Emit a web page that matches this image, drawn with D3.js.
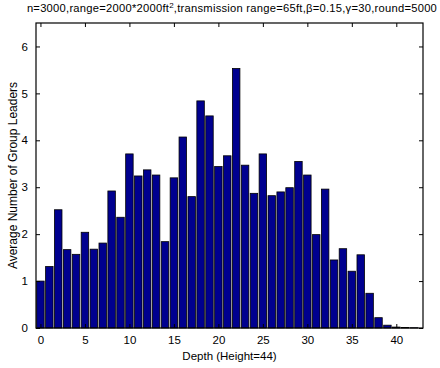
<!DOCTYPE html>
<html>
<head>
<meta charset="utf-8">
<script src="https://cdn.jsdelivr.net/npm/d3@7"></script>
<style>
  body { margin: 0; background: #fff; }
  text { font-family: "Liberation Sans", Arial, sans-serif; }
</style>
</head>
<body>
<div id="chart"></div>
<script>
// depth values 0..42 and average number of group leaders per depth
var depths = d3.range(0, 43);
var leaders = [1.00, 1.31, 2.52, 1.67, 1.57, 2.04, 1.68, 1.81, 2.92, 2.36,
               3.71, 3.24, 3.37, 3.26, 1.84, 3.20, 4.07, 2.80, 4.84, 4.52,
               3.44, 3.67, 5.53, 3.47, 2.87, 3.71, 2.82, 2.90, 2.99, 3.55,
               3.26, 1.99, 2.96, 1.45, 1.69, 1.21, 1.56, 0.74, 0.22, 0.06,
               0.02, 0.01, 0.005];
var xTicks = [0, 5, 10, 15, 20, 25, 30, 35, 40];
var yTicks = [0, 1, 2, 3, 4, 5, 6];

var w = 440, h = 368,
    margin = {top: 23, right: 17, bottom: 40, left: 36};

var svg = d3.select("#chart")
            .append("svg")
            .attr("width", w)
            .attr("height", h)
            .style("background-color", "white");

var width = w - margin.left - margin.right,
    height = h - margin.top - margin.bottom;

var g = svg.append("g").attr("transform", "translate(" + margin.left + "," + margin.top + ")");

var xScale = d3.scaleLinear().domain([-0.5, 43]).range([0, width]),
    yScale = d3.scaleLinear().domain([0, 6.5]).range([height, 0]);

var step = xScale(1) - xScale(0),
    barW = step * 0.84;

// bars
g.selectAll("rect.bar")
  .data(leaders)
  .enter()
  .append("rect")
  .attr("class", "bar")
  .attr("x", function (d, i) { return xScale(depths[i]) - barW / 2; })
  .attr("y", function (d) { return yScale(d); })
  .attr("width", barW)
  .attr("height", function (d) { return height - yScale(d); })
  .attr("fill", "#00008f")
  .attr("stroke", "black")
  .attr("stroke-width", 0.8);

// axes, ticks pointing inward (matlab style)
var xAxis = d3.axisBottom(xScale).tickValues(xTicks).tickSizeInner(-4).tickSizeOuter(0).tickPadding(8).tickFormat(d3.format("d")),
    xAxisTop = d3.axisTop(xScale).tickValues(xTicks).tickSizeInner(-4).tickSizeOuter(0).tickFormat(""),
    yAxis = d3.axisLeft(yScale).tickValues(yTicks).tickSizeInner(-4).tickSizeOuter(0).tickPadding(8).tickFormat(d3.format("d")),
    yAxisRight = d3.axisRight(yScale).tickValues(yTicks).tickSizeInner(-4).tickSizeOuter(0).tickFormat("");

g.append("g").attr("transform", "translate(0," + height + ")").call(xAxis);
g.append("g").call(xAxisTop);
g.append("g").call(yAxis);
g.append("g").attr("transform", "translate(" + width + ",0)").call(yAxisRight);

g.selectAll(".domain").remove();
g.selectAll(".tick line").attr("stroke", "black").attr("stroke-width", 1);
g.selectAll(".tick text").attr("fill", "black").style("font-size", "11.5px")
  .style("font-family", "'Liberation Sans', Arial, sans-serif");

// box
g.append("rect")
  .attr("x", 0).attr("y", 0)
  .attr("width", width).attr("height", height)
  .attr("fill", "none")
  .attr("stroke", "black")
  .attr("stroke-width", 1.2);

// labels
svg.append("text")
  .attr("x", margin.left + width / 2)
  .attr("y", 360)
  .attr("text-anchor", "middle")
  .style("font-size", "11.5px")
  .text("Depth (Height=44)");

svg.append("text")
  .attr("transform", "translate(17," + (margin.top + height / 2) + ") rotate(-90)")
  .attr("text-anchor", "middle")
  .style("font-size", "12px")
  .text("Average Number of Group Leaders");

var title = svg.append("text")
  .attr("x", 232)
  .attr("y", 12)
  .attr("text-anchor", "middle")
  .style("font-size", "11.2px")
  .style("letter-spacing", "0.25px");
title.append("tspan").text("n=3000,range=2000*2000ft");
title.append("tspan").attr("dy", -4).style("font-size", "8px").text("2");
title.append("tspan").attr("dy", 4).text(",transmission range=65ft,\u03b2=0.15,\u03b3=30,round=5000");
</script>
</body>
</html>
